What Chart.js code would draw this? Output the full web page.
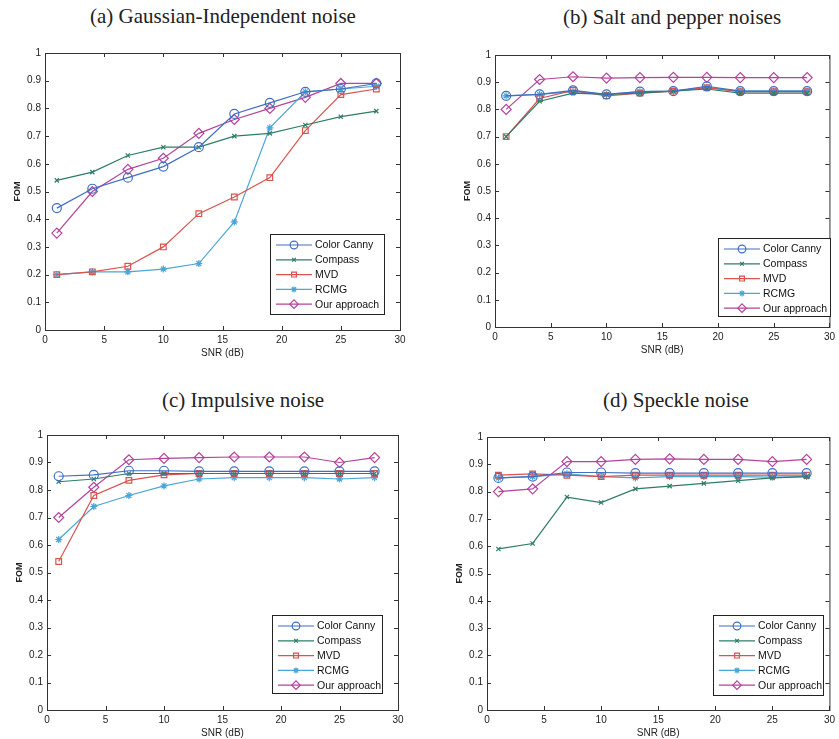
<!DOCTYPE html>
<html>
<head>
<meta charset="utf-8">
<script src="https://cdn.jsdelivr.net/npm/chart.js@4.4.1/dist/chart.umd.min.js"></script>
<style>
  body { margin: 0; background: #fff; }
  #page { position: relative; width: 839px; height: 739px; overflow: hidden; background: #fff; }
  .title { position: absolute; font-family: "Liberation Serif", "DejaVu Serif", serif; font-size: 21px; line-height: 24px; color: #222; white-space: nowrap; }
  canvas { position: absolute; }
</style>
</head>
<body>
<div id="page">
  <div class="title" style="left:90px;top:4px">(a) Gaussian-Independent noise</div>
  <div class="title" style="left:563px;top:5px">(b) Salt and pepper noises</div>
  <div class="title" style="left:162px;top:388px">(c) Impulsive noise</div>
  <div class="title" style="left:603px;top:388px">(d) Speckle noise</div>
  <canvas id="chartA"></canvas>
  <canvas id="chartB"></canvas>
  <canvas id="chartC"></canvas>
  <canvas id="chartD"></canvas>
</div>
<script>
// ==============================
// Data
// ==============================
const snr = [1, 4, 7, 10, 13, 16, 19, 22, 25, 28];
const methods = ['Color Canny', 'Compass', 'MVD', 'RCMG', 'Our approach'];
const xTicks = [0, 5, 10, 15, 20, 25, 30];
const yTicks = [0, 0.1, 0.2, 0.3, 0.4, 0.5, 0.6, 0.7, 0.8, 0.9, 1];

// (a) Gaussian-Independent noise
const gaussCanny   = [0.44, 0.51, 0.55, 0.59, 0.66, 0.78, 0.82, 0.86, 0.87, 0.89];
const gaussCompass = [0.54, 0.57, 0.63, 0.66, 0.66, 0.70, 0.71, 0.74, 0.77, 0.79];
const gaussMVD     = [0.20, 0.21, 0.23, 0.30, 0.42, 0.48, 0.55, 0.72, 0.85, 0.87];
const gaussRCMG    = [0.20, 0.21, 0.21, 0.22, 0.24, 0.39, 0.73, 0.86, 0.87, 0.88];
const gaussOurs    = [0.35, 0.50, 0.58, 0.62, 0.71, 0.76, 0.80, 0.84, 0.89, 0.89];

// (b) Salt and pepper noises
const saltCanny   = [0.85, 0.855, 0.87, 0.855, 0.865, 0.867, 0.885, 0.867, 0.867, 0.867];
const saltCompass = [0.70, 0.83, 0.86, 0.855, 0.86, 0.867, 0.875, 0.86, 0.86, 0.86];
const saltMVD     = [0.70, 0.84, 0.87, 0.85, 0.86, 0.867, 0.88, 0.865, 0.865, 0.865];
const saltRCMG    = [0.85, 0.855, 0.865, 0.855, 0.865, 0.867, 0.88, 0.867, 0.867, 0.867];
const saltOurs    = [0.80, 0.91, 0.92, 0.915, 0.917, 0.918, 0.918, 0.917, 0.917, 0.917];

// (c) Impulsive noise
const impCanny   = [0.85, 0.855, 0.87, 0.87, 0.868, 0.868, 0.868, 0.868, 0.868, 0.868];
const impCompass = [0.83, 0.84, 0.86, 0.86, 0.86, 0.86, 0.86, 0.86, 0.86, 0.86];
const impMVD     = [0.54, 0.78, 0.835, 0.855, 0.86, 0.86, 0.86, 0.86, 0.86, 0.86];
const impRCMG    = [0.62, 0.74, 0.78, 0.815, 0.84, 0.845, 0.845, 0.845, 0.84, 0.845];
const impOurs    = [0.70, 0.81, 0.91, 0.915, 0.918, 0.92, 0.92, 0.92, 0.90, 0.918];

// (d) Speckle noise
const speckCanny   = [0.85, 0.855, 0.87, 0.87, 0.868, 0.868, 0.868, 0.868, 0.868, 0.868];
const speckCompass = [0.59, 0.61, 0.78, 0.76, 0.81, 0.82, 0.83, 0.84, 0.85, 0.855];
const speckMVD     = [0.86, 0.865, 0.86, 0.855, 0.86, 0.86, 0.86, 0.86, 0.86, 0.86];
const speckRCMG    = [0.85, 0.855, 0.865, 0.855, 0.85, 0.855, 0.855, 0.855, 0.853, 0.855];
const speckOurs    = [0.80, 0.81, 0.91, 0.91, 0.918, 0.92, 0.918, 0.918, 0.91, 0.918];

// ==============================
// Styles
// ==============================
const colors  = ['#3f6fc2', '#2e7d68', '#d9534f', '#4aa6d6', '#b4439c'];
const markers = ['circle', 'crossRot', 'rect', 'star', 'rectRot'];
const radii   = [4.5, 3, 4, 3.5, 5];
const sans = '"Liberation Sans", Arial, sans-serif';

function makeDatasets(series) {
    return series.map((vals, i) => ({
        label: methods[i],
        data: vals.map((v, k) => ({ x: snr[k], y: v })),
        borderColor: colors[i],
        backgroundColor: 'rgba(255,255,255,0)',
        borderWidth: 1.2,
        pointStyle: markers[i],
        pointRadius: radii[i],
        pointBorderWidth: 1.2,
        pointBorderColor: colors[i],
        pointBackgroundColor: 'rgba(255,255,255,0)',
        tension: 0
    }));
}

// ==============================
// Box, inner ticks, legend
// ==============================
const framePlugin = {
    id: 'frame',
    afterDraw(chart, args, opts) {
        const { ctx, chartArea: a, scales } = chart;
        ctx.save();
        ctx.strokeStyle = '#333';
        ctx.lineWidth = 1;
        ctx.strokeRect(a.left + 0.5, a.top + 0.5, a.right - a.left, a.bottom - a.top);
        ctx.beginPath();
        xTicks.forEach(t => {
            const px = Math.round(scales.x.getPixelForValue(t)) + 0.5;
            ctx.moveTo(px, a.bottom); ctx.lineTo(px, a.bottom - 4);
            ctx.moveTo(px, a.top); ctx.lineTo(px, a.top + 4);
        });
        yTicks.forEach(t => {
            const py = Math.round(scales.y.getPixelForValue(t)) + 0.5;
            ctx.moveTo(a.left, py); ctx.lineTo(a.left + 4, py);
            ctx.moveTo(a.right, py); ctx.lineTo(a.right - 4, py);
        });
        ctx.stroke();

        // legend box
        const L = opts.box;
        ctx.fillStyle = '#fff';
        ctx.fillRect(L.x, L.y, L.w, L.h);
        ctx.strokeStyle = '#222';
        ctx.strokeRect(L.x + 0.5, L.y + 0.5, L.w, L.h);
        ctx.font = '10.5px ' + sans;
        ctx.textBaseline = 'middle';
        chart.data.datasets.forEach((ds, i) => {
            const cy = L.y + 11 + i * 14.8;
            ctx.strokeStyle = ds.borderColor;
            ctx.lineWidth = 1.2;
            ctx.beginPath();
            ctx.moveTo(L.x + 6, cy); ctx.lineTo(L.x + 42, cy);
            ctx.stroke();
            ctx.fillStyle = 'rgba(255,255,255,0)';
            Chart.helpers.drawPoint(ctx, {
                pointStyle: ds.pointStyle, radius: ds.pointRadius * 0.85, rotation: 0, borderWidth: 1
            }, L.x + 24, cy);
            ctx.fillStyle = '#111';
            ctx.fillText(ds.label, L.x + 45, cy + 0.5);
        });
        ctx.restore();
    }
};

// ==============================
// Panel builder
// ==============================
function makePanel(id, series, cv, plot, legendBox) {
    const el = document.getElementById(id);
    el.style.left = cv.x + 'px';
    el.style.top = cv.y + 'px';
    el.style.width = cv.w + 'px';
    el.style.height = cv.h + 'px';
    el.width = cv.w; el.height = cv.h;
    const yW = plot.left - cv.x;
    const xH = plot.bottom + 29 - plot.bottom;
    const box = { x: legendBox.x - cv.x, y: legendBox.y - cv.y, w: legendBox.w, h: legendBox.h };
    const titlePad = yW - 27 - 5.4;
    new Chart(el, {
        type: 'line',
        data: { datasets: makeDatasets(series) },
        options: {
            responsive: false,
            animation: false,
            layout: { padding: { top: plot.top - cv.y, right: cv.x + cv.w - plot.right, left: 0, bottom: cv.y + cv.h - plot.bottom - xH } },
            plugins: { legend: { display: false }, tooltip: { enabled: false }, frame: { box } },
            scales: {
                x: {
                    type: 'linear', min: 0, max: 30,
                    afterFit: s => { s.height = xH; },
                    afterBuildTicks: s => { s.ticks = xTicks.map(v => ({ value: v })); },
                    grid: { display: false, drawTicks: false },
                    border: { display: false },
                    ticks: { color: '#222', font: { size: 10, family: sans }, padding: 4, maxRotation: 0 },
                    title: { display: true, text: 'SNR (dB)', color: '#222', font: { size: 10, family: sans }, padding: { top: 0, bottom: 0 } }
                },
                y: {
                    type: 'linear', min: 0, max: 1,
                    afterFit: s => { s.width = yW; },
                    afterBuildTicks: s => { s.ticks = yTicks.map(v => ({ value: v })); },
                    grid: { display: false, drawTicks: false },
                    border: { display: false },
                    ticks: { color: '#222', font: { size: 10, family: sans }, padding: 4,
                             callback: v => String(Math.round(v * 10) / 10) },
                    title: { display: true, text: 'FOM', color: '#222', font: { size: 9, weight: 'bold', family: sans }, padding: { top: titlePad, bottom: 0 } }
                }
            }
        },
        plugins: [framePlugin]
    });
}

makePanel('chartA', [gaussCanny, gaussCompass, gaussMVD, gaussRCMG, gaussOurs],
    { x: 0, y: 40, w: 412, h: 325 }, { left: 45, top: 53, right: 400, bottom: 330 },
    { x: 270, y: 234, w: 114, h: 80 });
makePanel('chartB', [saltCanny, saltCompass, saltMVD, saltRCMG, saltOurs],
    { x: 450, y: 40, w: 389, h: 325 }, { left: 495, top: 55, right: 838, bottom: 327 },
    { x: 718, y: 238, w: 112, h: 78 });
makePanel('chartC', [impCanny, impCompass, impMVD, impRCMG, impOurs],
    { x: 0, y: 420, w: 412, h: 319 }, { left: 47, top: 435, right: 398, bottom: 710 },
    { x: 272, y: 615, w: 110, h: 78 });
makePanel('chartD', [speckCanny, speckCompass, speckMVD, speckRCMG, speckOurs],
    { x: 440, y: 420, w: 399, h: 319 }, { left: 487, top: 437, right: 832, bottom: 710 },
    { x: 713, y: 615, w: 110, h: 80 });
</script>
</body>
</html>
